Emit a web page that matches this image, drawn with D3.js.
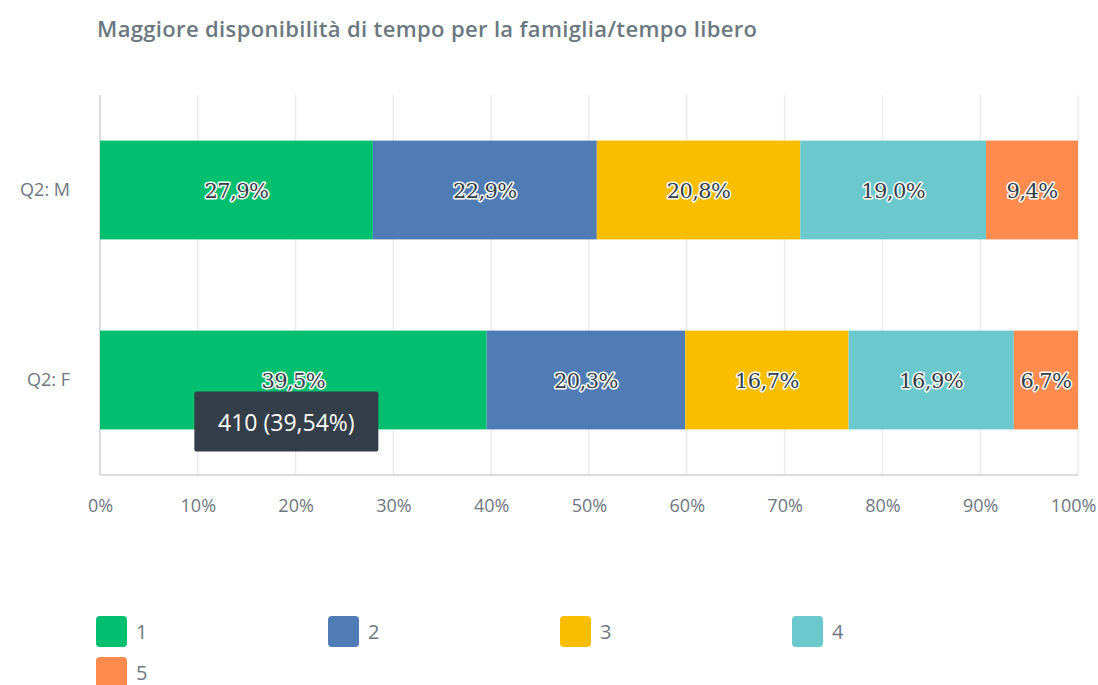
<!DOCTYPE html>
<html>
<head>
<meta charset="utf-8">
<script src="https://cdn.jsdelivr.net/npm/d3@7"></script>
<style>
  body { margin: 0; background: #fff; }
  svg { display: block; }
</style>
</head>
<body>
<svg width="1098" height="685"></svg>
<script>
// data
const categories = ["Q2: M", "Q2: F"];
const seriesNames = ["1", "2", "3", "4", "5"];
const valuesM = [27.9, 22.9, 20.8, 19.0, 9.4];
const valuesF = [39.54, 20.3, 16.7, 16.9, 6.7];
const colors = ["#00bf6f", "#507cb6", "#f9be00", "#6bc8cd", "#ff8b4f"];
const xTicks = [0, 10, 20, 30, 40, 50, 60, 70, 80, 90, 100];
const tooltipText = "410 (39,54%)";

const svg = d3.select("svg");
const margin = {left: 100, right: 20, top: 95, bottom: 210};
const width = 1098, height = 685;

const rows = categories.map((c, i) => {
  let r = {cat: c};
  let vals = i == 0 ? valuesM : valuesF;
  seriesNames.forEach((s, j) => r[s] = vals[j]);
  return r;
});
const stacked = d3.stack().keys(seriesNames)(rows);

let xScale = d3.scaleLinear().domain([0, 100])
  .range([margin.left, width - margin.right]).clamp(true);
let yScale = d3.scaleBand().domain(categories)
  .range([margin.top, height - margin.bottom]).paddingInner(0.48).paddingOuter(0.24);

// title
svg.append("text")
  .attr("x", 97).attr("y", 37)
  .attr("font-family", "Open Sans")
  .attr("font-weight", 600)
  .attr("font-size", 22)
  .attr("fill", "#6b787f")
  .attr("textLength", 660)
  .text("Maggiore disponibilità di tempo per la famiglia/tempo libero");

// gridlines
svg.append("g").attr("class", "grid")
  .selectAll("line")
  .data(xTicks.slice(1))
  .join("line")
  .attr("x1", d => xScale(d)).attr("x2", d => xScale(d))
  .attr("y1", margin.top).attr("y2", height - margin.bottom)
  .attr("stroke", "#ebebeb").attr("stroke-width", 1.5);

// axis lines
svg.append("line")
  .attr("x1", margin.left).attr("x2", margin.left)
  .attr("y1", margin.top).attr("y2", height - margin.bottom)
  .attr("stroke", "#d0d0d0").attr("stroke-width", 1.5);
svg.append("line")
  .attr("x1", margin.left).attr("x2", width - margin.right)
  .attr("y1", height - margin.bottom).attr("y2", height - margin.bottom)
  .attr("stroke", "#d0d0d0").attr("stroke-width", 1.5);

// x axis labels
let xAxis = d3.axisBottom(xScale).tickValues(xTicks)
  .tickFormat(d => d + "%").tickSize(0).tickPadding(24);
let xAxisG = svg.append("g").attr("id", "xAxisG")
  .attr("transform", `translate(0, ${height - margin.bottom})`)
  .call(xAxis);
xAxisG.select(".domain").remove();
xAxisG.selectAll("text")
  .attr("font-family", "Open Sans").attr("font-size", 18)
  .attr("fill", "#6f7780");
// keep last label inside the window
xAxisG.selectAll("text").filter(d => d == 100)
  .attr("text-anchor", "end").attr("dx", 18);

// y axis labels
let yAxis = d3.axisLeft(yScale).tickSize(0).tickPadding(30);
let yAxisG = svg.append("g").attr("id", "yAxisG")
  .attr("transform", `translate(${margin.left}, 0)`)
  .call(yAxis);
yAxisG.select(".domain").remove();
yAxisG.selectAll("text")
  .attr("font-family", "Open Sans").attr("font-size", 18).attr("fill", "#6f7780");

// bars
let layers = svg.selectAll("g.layer")
  .data(stacked)
  .join("g")
  .attr("class", "layer")
  .attr("fill", (d, i) => colors[i]);

layers.selectAll("rect")
  .data(d => d)
  .join("rect")
  .attr("x", d => xScale(d[0]))
  .attr("y", d => yScale(d.data.cat))
  .attr("width", d => xScale(d[1]) - xScale(d[0]))
  .attr("height", yScale.bandwidth());

// bar labels
layers.selectAll("text")
  .data(d => d.map(v => ({v: v, key: d.key})))
  .join("text")
  .attr("x", d => (xScale(d.v[0]) + xScale(d.v[1])) / 2)
  .attr("y", d => yScale(d.v.data.cat) + yScale.bandwidth() / 2)
  .attr("dy", "0.36em")
  .attr("text-anchor", "middle")
  .attr("font-family", "DejaVu Serif")
  .attr("font-size", 21)
  .attr("letter-spacing", -0.6)
  .attr("fill", "#333e48")
  .attr("stroke", "#fff")
  .attr("stroke-width", 3)
  .attr("stroke-linejoin", "round")
  .attr("paint-order", "stroke")
  .text(d => d3.format(".1f")(d.v.data[d.key]).replace(".", ",") + "%");

// tooltip on first bar of F
let tipG = svg.append("g")
  .attr("transform", `translate(${xScale(valuesF[0] / 2) - 99}, ${yScale("Q2: F") + 61})`);
tipG.append("rect")
  .attr("width", 184).attr("height", 60).attr("rx", 2)
  .attr("fill", "#333e48");
tipG.append("text")
  .attr("x", 92).attr("y", 31).attr("dy", "0.36em")
  .attr("text-anchor", "middle")
  .attr("font-family", "Open Sans").attr("font-size", 23)
  .attr("fill", "#fff")
  .text(tooltipText);

// legend
let legend = svg.append("g").selectAll("g.item")
  .data(seriesNames)
  .join("g")
  .attr("class", "item")
  .attr("transform", (d, i) => `translate(${96 + (i % 4) * 232}, ${616 + Math.floor(i / 4) * 41})`);
legend.append("rect")
  .attr("width", 31).attr("height", 31).attr("rx", 4)
  .attr("fill", (d, i) => colors[i]);
legend.append("text")
  .attr("x", 40).attr("y", 16).attr("dy", "0.34em")
  .attr("font-family", "Open Sans").attr("font-size", 20)
  .attr("fill", "#6f7780")
  .text(d => d);
</script>
</body>
</html>
